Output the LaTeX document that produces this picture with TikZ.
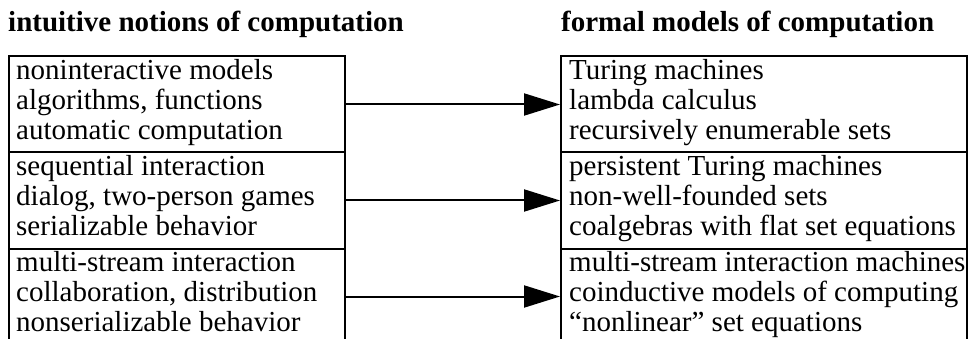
\documentclass[tikz,border=0pt]{standalone}
\usepackage{fontspec}
\setmainfont{Liberation Serif}
\usepackage{tikz}
\usetikzlibrary{positioning}
\usetikzlibrary{arrows.meta}
\pgfdeclarelayer{nodelayer}
\pgfdeclarelayer{edgelayer}
\pgfsetlayers{nodelayer,edgelayer,main}
\tikzset{
    none/.style = {inner sep=0pt},
    box/.style = {draw, line width=2pt, inner sep=0pt, minimum height=96pt},
    leftbox/.style = {box, minimum width=336pt},
    rightbox/.style = {box, minimum width=406pt},
    lines/.style = {inner sep=0pt, anchor=north west, align=left, font=\fontsize{29}{30}\selectfont},
    head/.style = {inner sep=0pt, anchor=base west, font=\fontsize{29}{30}\selectfont\bfseries},
    arrow/.style = {line width=2pt, -{Triangle[length=36pt,width=22pt]}}
}

\begin{document}
\begin{tikzpicture}[x=1pt, y=-1pt]
  \useasboundingbox (0, 0) rectangle (969, 339);
  \begin{pgfonlayer}{nodelayer}
    % boxes
    \node [style=leftbox] (0) at (177, 104.5) {};
    \node [style=leftbox] (1) at (177, 200.5) {};
    \node [style=leftbox] (2) at (177, 296.5) {};
    \node [style=rightbox] (3) at (764, 104.5) {};
    \node [style=rightbox] (4) at (764, 200.5) {};
    \node [style=rightbox] (5) at (764, 296.5) {};
    % headings
    \node [style=head] (6) at (8, 32) {intuitive notions of computation};
    \node [style=head] (7) at (561, 32) {formal models of computation};
    % box texts
    \node [style=lines] (8) at ([shift={(8, 2.5)}]0.north west) {\strut noninteractive models\\algorithms, functions\\automatic computation};
    \node [style=lines] (9) at ([shift={(8, 2.5)}]1.north west) {\strut sequential interaction\\dialog, two-person games\\serializable behavior};
    \node [style=lines] (10) at ([shift={(8, 2.5)}]2.north west) {\strut multi-stream interaction\\collaboration, distribution\\nonserializable behavior};
    \node [style=lines] (11) at ([shift={(9, 2.5)}]3.north west) {\strut Turing machines\\lambda calculus\\recursively enumerable sets};
    \node [style=lines] (12) at ([shift={(9, 2.5)}]4.north west) {\strut persistent Turing machines\\non-well-founded sets\\coalgebras with flat set equations};
    \node [style=lines] (13) at ([shift={(9, 2.5)}]5.north west) {\strut multi-stream interaction machines\\coinductive models of computing\\``nonlinear'' set equations};
  \end{pgfonlayer}
  \begin{pgfonlayer}{edgelayer}
    \draw [style=arrow] (0.east) to (3.west);
    \draw [style=arrow] (1.east) to (4.west);
    \draw [style=arrow] (2.east) to (5.west);
  \end{pgfonlayer}
\end{tikzpicture}
\end{document}
